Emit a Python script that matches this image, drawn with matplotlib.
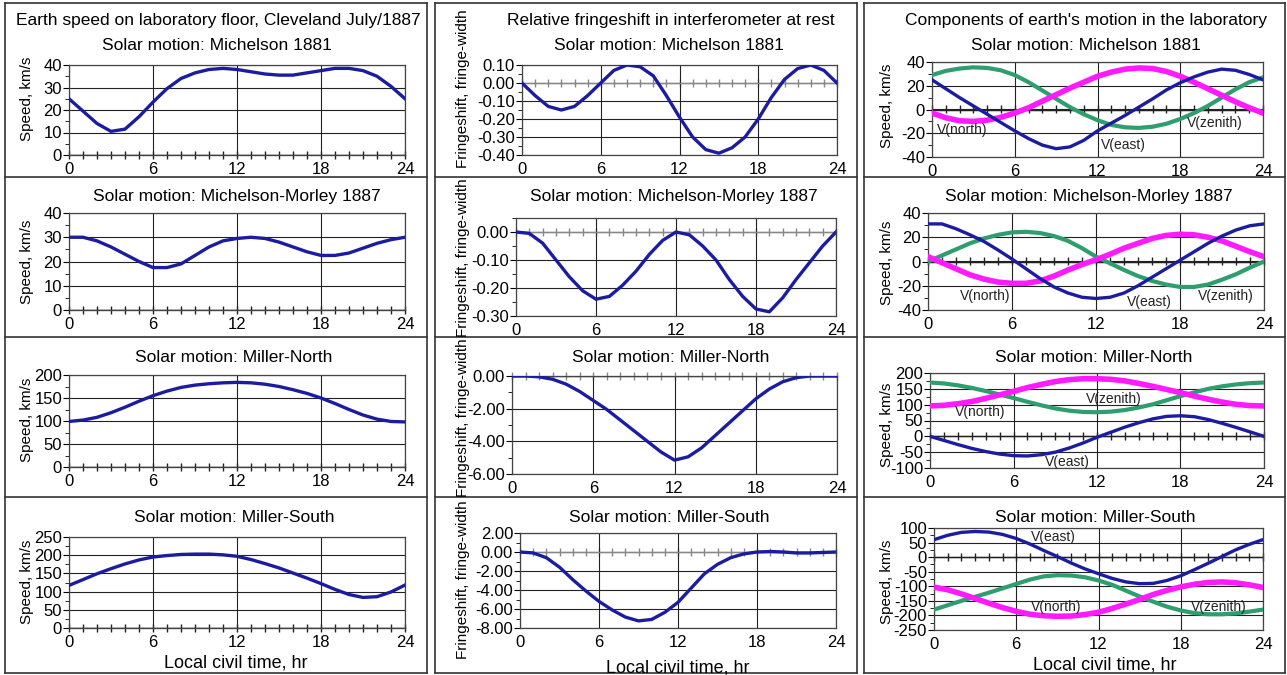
import matplotlib
matplotlib.use('Agg')
import matplotlib.pyplot as plt
from matplotlib.ticker import MultipleLocator, FormatStrFormatter
from matplotlib.lines import Line2D

plt.rcParams['font.family'] = ['Liberation Sans', 'DejaVu Sans']
plt.rcParams['axes.unicode_minus'] = False

hours = list(range(25))
solar_models = ['Michelson 1881', 'Michelson-Morley 1887', 'Miller-North', 'Miller-South']

# earth speed on laboratory floor, km/s
speed_m1881 = [25, 19.5, 14, 10.5, 11.5, 17, 23.5, 29.5, 34, 36.5, 38, 38.5, 38, 37, 36, 35.5, 35.5, 36.5, 37.5, 38.5, 38.5, 37.5, 35, 30.5, 25]
speed_mm1887 = [30, 30, 28.5, 26, 23, 20, 17.5, 17.5, 19, 22.5, 26, 28.5, 29.5, 30, 29.5, 28, 26, 24, 22.5, 22.5, 23.5, 25.5, 27.5, 29, 30]
speed_mn = [99, 102, 108, 118, 130, 143, 155, 165, 173, 178, 181, 183, 184, 183, 180, 175, 168, 160, 150, 138, 125, 113, 104, 99, 98]
speed_ms = [117, 133, 149, 163, 176, 187, 195, 199, 202, 203, 203, 201, 197, 188, 177, 165, 151, 137, 122, 106, 92, 84, 86, 99, 118]

# relative fringeshift, fringe-width
fringe_m1881 = [0.0, -0.07, -0.13, -0.15, -0.13, -0.07, 0.0, 0.07, 0.10, 0.09, 0.04, -0.07, -0.19, -0.30, -0.37, -0.39, -0.36, -0.30, -0.20, -0.08, 0.02, 0.08, 0.10, 0.07, 0.0]
fringe_mm1887 = [0.0, -0.005, -0.04, -0.10, -0.16, -0.21, -0.24, -0.23, -0.19, -0.14, -0.08, -0.03, 0.0, -0.01, -0.05, -0.10, -0.17, -0.23, -0.275, -0.285, -0.235, -0.17, -0.11, -0.05, 0.0]
fringe_mn = [0, 0, -0.05, -0.2, -0.5, -0.95, -1.5, -2.05, -2.7, -3.35, -4.0, -4.65, -5.15, -4.95, -4.4, -3.65, -2.9, -2.15, -1.4, -0.8, -0.35, -0.1, 0, 0, 0]
fringe_ms = [0, -0.1, -0.6, -1.6, -2.9, -4.1, -5.2, -6.1, -6.85, -7.25, -7.1, -6.35, -5.3, -3.8, -2.3, -1.3, -0.6, -0.2, 0, 0.05, 0, -0.1, -0.1, -0.05, 0]

# components of earth's motion, km/s
east_m1881 = [25, 17.5, 10, 3, -4, -11, -18, -24.5, -30, -33, -31.5, -26, -18, -11.5, -5, 2, 9, 16.5, 22.5, 27.5, 31.5, 34, 33, 29.5, 25]
north_m1881 = [-3, -7, -9.5, -10, -9, -6.5, -3, 1.5, 7, 12.5, 18, 23, 28, 31.5, 34, 35, 34.5, 32, 28, 23, 17.5, 12, 6.5, 1.5, -3]
zenith_m1881 = [29, 32.5, 34.5, 35.5, 35, 33, 29, 23, 16, 9, 2, -4, -9, -13, -15, -15.5, -14.5, -12, -8, -3, 3, 10, 17, 23, 27]

east_mm1887 = [31, 31, 27, 22, 16.5, 9.5, 2, -6, -14, -21, -26, -29.5, -30.5, -29.5, -26, -20, -13, -6, 1, 8, 15, 21, 26, 29.5, 31]
north_mm1887 = [4, -1, -6, -11, -14.5, -17, -18, -18, -16, -12, -7, -2.5, 1.5, 6, 11, 15, 19, 21.5, 22.5, 22, 20, 17, 12.5, 8, 4]
zenith_mm1887 = [0, 5, 10, 15, 19, 22, 24, 24.5, 23.5, 21, 17, 11, 4, -1.5, -7, -12, -16, -19, -21, -21, -19, -15, -10.5, -5, 0]

east_mn = [0, -13, -26, -38, -48, -56, -61, -62, -58, -50, -37, -21, -3, 13, 29, 43, 55, 63, 65, 62, 53, 41, 28, 14, 0]
north_mn = [96, 98, 103, 110, 120, 131, 142, 154, 164, 173, 179, 182, 182, 180, 175, 167, 158, 148, 138, 127, 117, 108, 101, 97, 96]
zenith_mn = [170, 167, 161, 153, 143, 132, 121, 109, 98, 88, 81, 77, 76, 78, 83, 91, 101, 114, 127, 139, 150, 158, 164, 168, 170]

east_ms = [60, 75, 85, 88, 86, 78, 64, 45, 23, 2, -20, -40, -57, -73, -85, -91, -90, -80, -64, -43, -21, 2, 25, 44, 60]
north_ms = [-103, -112, -126, -142, -158, -173, -186, -196, -201, -203, -202, -197, -189, -176, -161, -145, -128, -114, -102, -93, -87, -85, -88, -95, -104]
zenith_ms = [-180, -165, -150, -136, -122, -107, -92, -77, -66, -62, -63, -69, -80, -95, -115, -135, -153, -170, -183, -192, -196, -196, -193, -187, -180]

# where the component names are written (hour, value)
label_pos = [
    {'V(north)': (2.2, -17), 'V(east)': (13.9, -30), 'V(zenith)': (20.5, -11)},
    {'V(north)': (4.1, -28.5), 'V(east)': (15.8, -33), 'V(zenith)': (21.3, -28.5)},
    {'V(north)': (3.6, 76), 'V(zenith)': (13.2, 118), 'V(east)': (9.9, -80)},
    {'V(east)': (8.7, 69), 'V(north)': (8.9, -170), 'V(zenith)': (20.8, -170)},
]

speed_series = [speed_m1881, speed_mm1887, speed_mn, speed_ms]
fringe_series = [fringe_m1881, fringe_mm1887, fringe_mn, fringe_ms]
comp_series = [
    (east_m1881, north_m1881, zenith_m1881),
    (east_mm1887, north_mm1887, zenith_mm1887),
    (east_mn, north_mn, zenith_mn),
    (east_ms, north_ms, zenith_ms),
]

BLUE = '#1c1ca0'
MAGENTA = '#ff1aff'
GREEN = '#2f9e6e'
GRID = '#222222'

W, H = 1287, 675
fig = plt.figure(figsize=(W / 100, H / 100), dpi=100)


def add_ax(x0, x1, y0, y1):
    return fig.add_axes([x0 / W, 1 - y1 / H, (x1 - x0) / W, (y1 - y0) / H])


def style(ax, ylim, ystep, fmt, zero_color):
    ax.set_xlim(0, 24)
    ax.set_ylim(*ylim)
    ax.set_xticks([0, 6, 12, 18, 24])
    ax.yaxis.set_major_locator(MultipleLocator(ystep))
    ax.yaxis.set_minor_locator(MultipleLocator(ystep / 2))
    ax.yaxis.set_major_formatter(FormatStrFormatter(fmt))
    ax.grid(True, which='major', color=GRID, lw=0.8)
    ax.set_axisbelow(True)
    ax.tick_params(axis='x', length=0, pad=5, labelsize=12)
    ax.tick_params(axis='y', which='major', length=4, direction='out', labelsize=12, pad=1)
    ax.tick_params(axis='y', which='minor', length=3, direction='out')
    for s in ax.spines.values():
        s.set_color('#444444')
        s.set_linewidth(0.9)
    # horizontal axis crossing at zero with hourly tick marks
    frac = (0 - ylim[0]) / (ylim[1] - ylim[0])
    ax.axhline(0, color=zero_color, lw=1.0, zorder=1.5)
    sec = ax.secondary_xaxis(frac)
    sec.set_xticks(hours)
    sec.set_xticklabels([])
    sec.tick_params(direction='inout', length=6, width=1.0, color=zero_color)
    for s in sec.spines.values():
        s.set_color(zero_color)


# column 1: speed
col1_px = [(69, 405, 65, 155), (69, 405, 213, 310), (69, 405, 375, 467), (69, 405, 537, 628)]
col1_ylims = [(0, 40, 10), (0, 40, 10), (0, 200, 50), (0, 250, 50)]
col1_title_x = [217, 237, 234, 234]
col1_label_y = [99, 262, 420, 582]

# column 2: fringeshift
col2_px = [(522, 837, 65, 155), (516, 836, 218, 316), (512, 837, 376, 474), (520, 836, 533, 628)]
col2_ylims = [(-0.4, 0.1, 0.1), (-0.3, 0.05, 0.1), (-6, 0, 2), (-8, 2, 2)]
col2_title_x = [669, 674, 671, 669]
col2_label_y = [89, 258, 418, 580]

# column 3: components
col3_px = [(932, 1263, 62, 157), (928, 1264, 213, 310), (930, 1264, 373, 468), (934, 1263, 528, 630)]
col3_ylims = [(-40, 40, 20), (-40, 40, 20), (-100, 200, 50), (-250, 100, 50)]
col3_title_x = [1086, 1089, 1094, 1095]
col3_label_y = [106, 263, 425, 582]

sub_y = [46, 197, 358, 518]

for i in range(4):
    # speed
    ax = add_ax(*col1_px[i])
    lo, hi, st = col1_ylims[i]
    style(ax, (lo, hi), st, '%d', '#222222')
    ax.plot(hours, speed_series[i], color=BLUE, lw=2.4, solid_joinstyle='round', zorder=3)
    fig.text(col1_title_x[i] / W, 1 - sub_y[i] / H, 'Solar motion: ' + solar_models[i],
             ha='center', va='center', fontsize=12.5)
    fig.text(27 / W, 1 - col1_label_y[i] / H, 'Speed, km/s', rotation=90,
             ha='center', va='center', fontsize=11)

    # fringeshift
    ax = add_ax(*col2_px[i])
    lo, hi, st = col2_ylims[i]
    style(ax, (lo, hi), st, '%.2f', '#888888')
    ax.plot(hours, fringe_series[i], color=BLUE, lw=2.4, solid_joinstyle='round', zorder=3)
    fig.text(col2_title_x[i] / W, 1 - sub_y[i] / H, 'Solar motion: ' + solar_models[i],
             ha='center', va='center', fontsize=12.5)
    fig.text(463 / W, 1 - col2_label_y[i] / H, 'Fringeshift, fringe-width', rotation=90,
             ha='center', va='center', fontsize=11)

    # components
    ax = add_ax(*col3_px[i])
    lo, hi, st = col3_ylims[i]
    style(ax, (lo, hi), st, '%d', '#222222')
    east, north, zenith = comp_series[i]
    ax.plot(hours, zenith, color=GREEN, lw=3, solid_joinstyle='round', zorder=3)
    ax.plot(hours, north, color=MAGENTA, lw=4, solid_joinstyle='round', zorder=3)
    ax.plot(hours, east, color=BLUE, lw=2.4, solid_joinstyle='round', zorder=4)
    for name, (lx, ly) in label_pos[i].items():
        ax.text(lx, ly, name, ha='center', va='center', fontsize=10, color='#222222', zorder=5)
    fig.text(col3_title_x[i] / W, 1 - sub_y[i] / H, 'Solar motion: ' + solar_models[i],
             ha='center', va='center', fontsize=12.5)
    fig.text(887 / W, 1 - col3_label_y[i] / H, 'Speed, km/s', rotation=90,
             ha='center', va='center', fontsize=11)

# column headings
fig.text(218 / W, 1 - 20 / H, 'Earth speed on laboratory floor, Cleveland July/1887',
         ha='center', va='center', fontsize=12.5)
fig.text(671 / W, 1 - 20 / H, 'Relative fringeshift in interferometer at rest',
         ha='center', va='center', fontsize=12.5)
fig.text(1086 / W, 1 - 20 / H, "Components of earth's motion in the laboratory",
         ha='center', va='center', fontsize=12.5)

# x labels
for xc, yc in [(236, 663), (678, 668), (1105, 665)]:
    fig.text(xc / W, 1 - yc / H, 'Local civil time, hr', ha='center', va='center', fontsize=13)

# boxes around the three columns
for x0, x1 in [(5, 427), (435, 857), (864, 1285)]:
    for xs in (x0, x1):
        fig.add_artist(Line2D([xs / W, xs / W], [1 - 3 / H, 1 - 673 / H], color='#333333', lw=1.2))
    for ys in (3, 177, 337, 497, 673):
        fig.add_artist(Line2D([x0 / W, x1 / W], [1 - ys / H, 1 - ys / H], color='#333333', lw=1.2))

fig.savefig('out.png', dpi=100)
